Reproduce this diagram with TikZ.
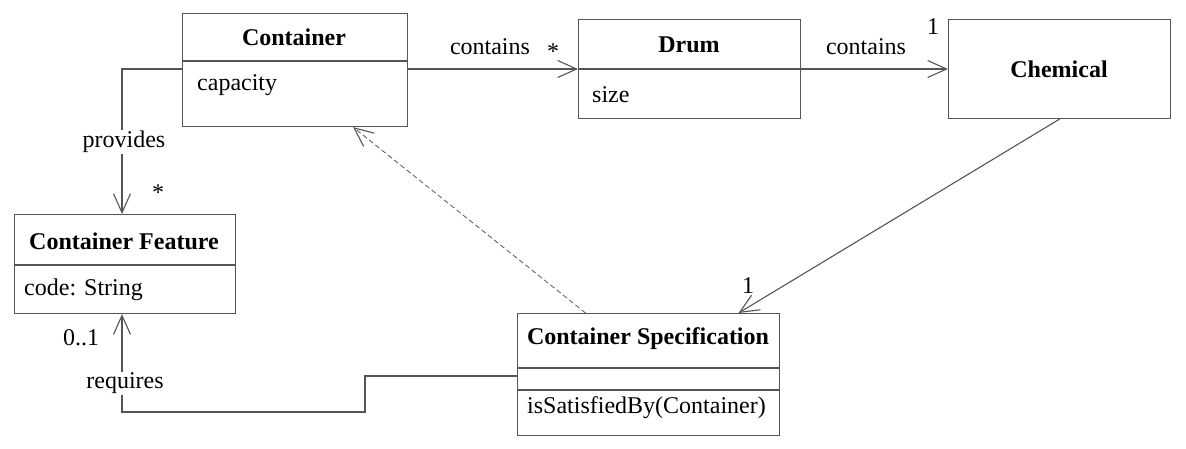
\documentclass[tikz,border=0pt]{standalone}
\usepackage{fontspec}
\setmainfont{Liberation Serif}
\usetikzlibrary{arrows.meta}
\definecolor{lc}{HTML}{555555}
\begin{document}
\begin{tikzpicture}[x=1pt,y=-1pt,
  box/.style={draw=lc, line width=1.1pt, inner sep=0pt, anchor=north west},
  ttl/.style={font=\bfseries\fontsize{24}{28}\selectfont, inner sep=0pt},
  attr/.style={font=\fontsize{24}{28}\selectfont, inner sep=0pt, anchor=west},
  lbl/.style={font=\fontsize{24}{28}\selectfont, inner sep=1pt},
  conn/.style={draw=lc, line width=1.1pt},
  open/.style={-{Straight Barb[length=19pt,width=17pt,line width=1.1pt]}}
]
\useasboundingbox (0,0) rectangle (1186,448);
% boxes
\node[box, minimum width=225pt, minimum height=113pt] (cont) at (182,13) {};
\node[box, minimum width=222pt, minimum height=99pt] (drum) at (578,19) {};
\node[box, minimum width=222pt, minimum height=99pt] (chem) at (948,19) {};
\node[box, minimum width=221pt, minimum height=99pt] (feat) at (14,214) {};
\node[box, minimum width=262pt, minimum height=122pt] (spec) at (517,313) {};
% divider levels
\coordinate (d61) at (0,61);
\coordinate (d69) at (0,69);
\coordinate (d265) at (0,265);
\coordinate (d368) at (0,368);
\coordinate (d390) at (0,390);
\draw[conn] (cont.west |- d61) -- (cont.east |- d61);
\draw[conn] (drum.west |- d69) -- (drum.east |- d69);
\draw[conn] (feat.west |- d265) -- (feat.east |- d265);
\draw[conn] (spec.west |- d368) -- (spec.east |- d368);
\draw[conn] (spec.west |- d390) -- (spec.east |- d390);
% texts
\node[ttl] (contT) at (294,37) {Container};
\node[attr] (contA) at (197,85) {capacity};
\node[ttl] (drumT) at (689,45) {Drum};
\node[attr] (drumA) at (592,95) {size};
\node[ttl] (chemT) at (1059,69) {Chemical};
\node[ttl] (featT) at (124,241) {Container Feature};
\node[attr] (featA) at (24,290) {code: String};
\node[ttl] (specT) at (648,339) {Container Specification};
\node[attr] (specA) at (527,408) {isSatisfiedBy(Container)};
% connectors
\draw[conn, open] (cont.east |- d69) -- (drum.west |- d69);
\node[lbl] (c1) at (490,47) {contains};
\node[lbl] (c1m) at (553,52) {*};
\draw[conn, open] (drum.east |- d69) -- (chem.west |- d69);
\node[lbl] (c2) at (866,47) {contains};
\node[lbl] (c2m) at (933,27) {1};
\draw[conn, open] (chem.south) -- ([xshift=90pt]spec.north);
\node[lbl] (c3m) at (748,286) {1};
\draw[conn, open, dashed, dash pattern=on 5pt off 3pt, line width=0.8pt] ([xshift=-63pt]spec.north) -- ([xshift=58pt]cont.south);
\coordinate (pb) at (122,69);
\draw[conn, open] (cont.west |- pb) -- (pb) -- (feat.north -| pb);
\node[lbl, fill=white] (prov) at (124,142) {provides};
\node[lbl] (pm) at (158,193) {*};
\coordinate (rq1) at (365,376);
\coordinate (rq2) at (365,412);
\coordinate (rq3) at (122,412);
\draw[conn, open] (spec.west |- rq1) -- (rq1) -- (rq2) -- (rq3) -- (feat.south -| rq3);
\node[lbl, fill=white] (req) at (125,383) {requires};
\node[lbl] (rm) at (81,338) {0..1};
\end{tikzpicture}
\end{document}
